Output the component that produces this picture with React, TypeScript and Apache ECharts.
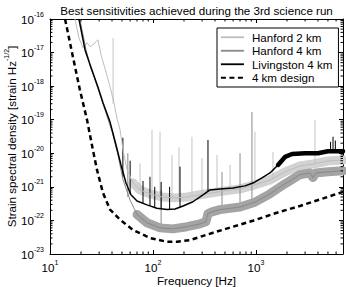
import React, { useEffect, useRef } from 'react';
import * as echarts from 'echarts';

const FONT = "'Liberation Sans', Arial, Helvetica, sans-serif";

const xMin = 10;
const xMax = 7000;
const yMin = 1e-23;
const yMax = 1e-16;

const titleText = 'Best sensitivities achieved during the 3rd science run';
const legendNames = ['Hanford 2 km', 'Hanford 4 km', 'Livingston 4 km', '4 km design'];
const xTickValues = [10, 100, 1000];
const yTickValues = [1e-23, 1e-22, 1e-21, 1e-20, 1e-19, 1e-18, 1e-17, 1e-16];

// Hanford 2 km (light gray)
const h2Freq = [17.5, 19.1, 20.9, 22.9, 24.5, 26.7, 29.2, 31.3, 35.0, 38.3, 41.8, 44.7, 47.9, 51.2, 56, 64, 74.8, 93.5, 122, 164, 214, 286, 374, 500, 700, 977, 1368, 1915, 2673, 3575, 5000, 7000];
const h2Val = [1.0e-16, 2.7e-17, 1.4e-17, 1.95e-17, 1.5e-17, 1.8e-17, 2.4e-17, 8.5e-18, 2.6e-18, 9.5e-19, 3.2e-19, 1.1e-19, 5.0e-20, 1.26e-20, 3.2e-21, 1.3e-21, 8.1e-22, 6.2e-22, 5.0e-22, 4.7e-22, 5.0e-22, 5.8e-22, 6.6e-22, 7.6e-22, 8.7e-22, 1.15e-21, 1.6e-21, 2.8e-21, 4.2e-21, 4.8e-21, 5.9e-21, 6.3e-21];
const h2Spikes = [
  [41, 3.0e-19, 2.7e-17], [74.8, 8.0e-22, 5.0e-21], [97.8, 6.0e-22, 5.0e-20], [117, 5.0e-22, 4.4e-20],
  [153, 5.0e-22, 8.9e-21], [179, 5.0e-22, 1.5e-20], [239, 5.5e-22, 3.1e-20], [299, 6.0e-22, 7.3e-21],
  [418, 7.0e-22, 8.9e-21], [560, 8.0e-22, 4.5e-21], [977, 1.2e-21, 4.4e-20], [1463, 1.7e-21, 1.1e-20],
  [3740, 5.0e-21, 9.8e-20],
];

// Hanford 4 km (gray)
const h1Freq = [19.5, 22.4, 25.0, 29.9, 34.2, 40.0, 45.7, 51.2, 59.8, 70, 87.5, 117, 156, 214, 286, 327, 342, 374, 447, 700, 977, 1368, 1915, 2673, 3342, 3575, 3828, 5000, 7000];
const h1Val = [1.0e-16, 1.2e-17, 3.5e-18, 6.7e-19, 1.95e-19, 4.4e-20, 8.9e-21, 1.6e-21, 4.1e-22, 1.5e-22, 8.5e-23, 6.0e-23, 5.6e-23, 6.5e-23, 7.9e-23, 9.1e-23, 1.6e-22, 1.8e-22, 2.1e-22, 2.5e-22, 3.5e-22, 6.2e-22, 1.23e-21, 2.3e-21, 2.6e-21, 1.9e-21, 2.6e-21, 2.8e-21, 3.0e-21];
const h1Spikes = [
  [57, 5.0e-22, 1.0e-20], [120, 6.0e-23, 8.0e-22], [468, 2.1e-22, 2.8e-21], [700, 2.5e-22, 1.0e-20],
  [914, 3.3e-22, 1.7e-19],
];

// Livingston 4 km (black)
const l1Freq = [19.1, 21.9, 24.5, 29.2, 32.7, 38.3, 43.7, 48.9, 54.7, 61.1, 70, 87.5, 109, 137, 164, 196, 244, 306, 357, 447, 598, 782, 935, 1143, 1368, 1637, 1915, 2239, 2990, 3999, 5000, 7000];
const l1Val = [1.0e-16, 1.2e-17, 4.3e-18, 9.5e-19, 3.2e-19, 8.5e-20, 1.8e-20, 4.5e-21, 1.3e-21, 5.8e-22, 3.8e-22, 2.9e-22, 2.3e-22, 2.1e-22, 2.2e-22, 2.7e-22, 3.6e-22, 5.8e-22, 8.1e-22, 8.7e-22, 9.3e-22, 1.07e-21, 1.3e-21, 1.86e-21, 2.6e-21, 4.5e-21, 7.8e-21, 9.5e-21, 1.0e-20, 1.0e-20, 1.15e-20, 1.15e-20];
const l1Spikes = [
  [51, 2.0e-21, 2.9e-20], [60, 6.0e-22, 6.0e-21], [80, 3.2e-22, 1.5e-21], [93.5, 2.8e-22, 2.0e-21],
  [104, 2.4e-22, 1.0e-21], [120, 2.2e-22, 1.4e-21], [145, 2.1e-22, 1.0e-21], [183, 2.4e-22, 4.0e-21],
  [342, 7.0e-22, 2.5e-20], [5300, 1.15e-20, 2.2e-20], [5600, 1.15e-20, 3.1e-20], [5900, 1.15e-20, 2.4e-20],
];

// 4 km design (dashed)
const designFreq = [14.0, 16.7, 19.5, 22.9, 26.1, 28.6, 32.7, 38.3, 47.9, 64, 93.5, 137, 171, 229, 383, 598, 935, 1600, 2673, 4375, 7000];
const designVal = [1.0e-16, 7.4e-18, 7.8e-19, 9.8e-20, 1.26e-20, 3.2e-21, 6.6e-22, 2.1e-22, 1.05e-22, 5.2e-23, 3.0e-23, 2.3e-23, 2.3e-23, 2.6e-23, 4.3e-23, 6.5e-23, 9.8e-23, 1.7e-22, 2.7e-22, 4.4e-22, 7.1e-22];

const minorMult = [2, 3, 4, 5, 6, 7, 8, 9];
const xDecades = [10, 100, 1000];
const yDecades = [1e-23, 1e-22, 1e-21, 1e-20, 1e-19, 1e-18, 1e-17];

const pairs = (fs: number[], vs: number[]) => fs.map((f, i) => [f, vs[i]]);

const supStyle = { fontSize: 7, fontFamily: FONT, color: '#000', lineHeight: 8, padding: [0, 0, 10, 0] };
const supRich = {
  b: { fontSize: 11.6, fontFamily: FONT, color: '#000', lineHeight: 14 },
  s: supStyle,
};

const decadeLabel = (v: number) => {
  if (!(v > 0) || !isFinite(v)) return '';
  const e = Math.log10(v);
  const r = Math.round(e);
  if (Math.abs(e - r) > 1e-6) return '';
  return `{b|10}{s|${r}}`;
};

const axisCommon = {
  axisLine: { show: true, onZero: false, lineStyle: { color: '#000', width: 1 } },
  splitLine: { show: false },
  nameMoveOverlap: false,
};
const tickStyle = { show: true, inside: true, length: 4, lineStyle: { color: '#000', width: 1 } };

export default function App() {
  const ref = useRef<HTMLDivElement>(null);
  useEffect(() => {
    if (!ref.current) return;
    const chart = echarts.init(ref.current, undefined, { renderer: 'svg' });

    const spikeSeries = (name: string, data: number[][], color: string) => ({
      type: 'custom',
      name,
      silent: true,
      data,
      encode: { x: 0, y: [1, 2] },
      renderItem: (_p: any, api: any) => {
        const a = api.coord([api.value(0), api.value(1)]);
        const b = api.coord([api.value(0), api.value(2)]);
        return { type: 'line', shape: { x1: a[0], y1: a[1], x2: b[0], y2: b[1] }, style: { stroke: color, lineWidth: 1 } };
      },
      z: 2,
    });

    const minorData: number[][] = [];
    xDecades.forEach((d) => minorMult.forEach((m) => { if (m * d < xMax) minorData.push([m * d, yMin, 0]); }));
    yDecades.forEach((d) => minorMult.forEach((m) => minorData.push([xMin, m * d, 1])));

    const h2 = pairs(h2Freq, h2Val);
    const h1 = pairs(h1Freq, h1Val);
    const l1 = pairs(l1Freq, l1Val);

    const lineBase = { type: 'line', symbol: 'none', showSymbol: false, smooth: false, silent: true };

    const option: any = {
      animation: false,
      backgroundColor: '#fff',
      grid: { left: 50, right: 3, top: 19, bottom: 33, containLabel: false, outerBoundsMode: 'none' },
      graphic: [
        {
          type: 'text', x: 196.5, y: 10, silent: true,
          style: { text: titleText, fill: '#000', fontSize: 11.6, fontFamily: FONT, align: 'center', verticalAlign: 'middle' },
        },
      ],
      legend: {
        data: legendNames.map((n) => ({ name: n, itemStyle: { opacity: 0 } })),
        orient: 'vertical',
        left: 217,
        top: 28,
        itemWidth: 23,
        itemHeight: 8,
        itemGap: 1,
        padding: [3, 6, 3, 3],
        borderColor: '#000',
        borderWidth: 1,
        backgroundColor: '#fff',
        selectedMode: false,
        lineStyle: { width: 1.8 },
        textStyle: { fontSize: 11.6, fontFamily: FONT, color: '#000', lineHeight: 12.5, padding: [0, 0, 0, 3] },
        z: 10,
      },
      xAxis: [
        {
          ...axisCommon,
          type: 'log', logBase: 10, min: xMin, max: xMax, position: 'bottom',
          name: 'Frequency [Hz]', nameLocation: 'middle', nameGap: 19,
          nameTextStyle: { fontSize: 11.7, fontFamily: FONT, color: '#000', lineHeight: 14 },
          axisTick: { ...tickStyle, customValues: xTickValues },
          axisLabel: { formatter: decadeLabel, margin: 6, rich: supRich, customValues: xTickValues },
        },
        {
          ...axisCommon,
          type: 'log', logBase: 10, min: xMin, max: xMax, position: 'top',
          axisTick: { ...tickStyle, customValues: xTickValues },
          axisLabel: { show: false, customValues: xTickValues },
        },
      ],
      yAxis: [
        {
          ...axisCommon,
          type: 'log', logBase: 10, min: yMin, max: yMax, position: 'left',
          name: 'Strain spectral density [strain Hz{s|-1/2}]', nameLocation: 'middle', nameGap: 32,
          nameTextStyle: { fontSize: 11.6, fontFamily: FONT, color: '#000', lineHeight: 14, rich: { s: supStyle } },
          axisTick: { ...tickStyle, customValues: yTickValues },
          axisLabel: { formatter: decadeLabel, margin: 6, rich: supRich, customValues: yTickValues },
        },
        {
          ...axisCommon,
          type: 'log', logBase: 10, min: yMin, max: yMax, position: 'right',
          axisTick: { ...tickStyle, customValues: yTickValues },
          axisLabel: { show: false, customValues: yTickValues },
        },
      ],
      series: [
        { ...lineBase, name: 'H2 band', data: h2.filter((p) => p[0] >= 64), lineStyle: { color: '#d2d2d2', width: 9, cap: 'round', join: 'round' }, z: 1 },
        spikeSeries('H2 spikes', h2Spikes, '#c4c4c4'),
        { ...lineBase, name: 'Hanford 2 km', data: h2, itemStyle: { color: '#bdbdbd' }, lineStyle: { color: '#bdbdbd', width: 1 }, z: 2 },
        { ...lineBase, name: 'H1 band', data: h1.filter((p) => p[0] >= 70), lineStyle: { color: '#a4a4a4', width: 9, cap: 'round', join: 'round' }, z: 3 },
        spikeSeries('H1 spikes', h1Spikes, '#8a8a8a'),
        { ...lineBase, name: 'Hanford 4 km', data: h1, itemStyle: { color: '#888888' }, lineStyle: { color: '#888888', width: 1 }, z: 3 },
        { ...lineBase, name: 'L1 band', data: l1.filter((p) => p[0] >= 1637), lineStyle: { color: '#000', width: 4.5, cap: 'round', join: 'round' }, z: 4 },
        spikeSeries('L1 spikes', l1Spikes, '#000'),
        { ...lineBase, name: 'Livingston 4 km', data: l1, itemStyle: { color: '#000' }, lineStyle: { color: '#000', width: 1.5 }, z: 4 },
        { ...lineBase, name: '4 km design', data: pairs(designFreq, designVal), itemStyle: { color: '#000' }, lineStyle: { color: '#000', width: 2.5, type: [5, 3.5] }, z: 5 },
        {
          type: 'custom', name: 'minor ticks', silent: true, data: minorData, encode: { x: 0, y: 1 }, clip: false, z: 6,
          renderItem: (_p: any, api: any) => {
            const kind = api.value(2);
            if (kind === 0) {
              const f = api.value(0);
              const b = api.coord([f, yMin]);
              const t = api.coord([f, yMax]);
              return {
                type: 'group', children: [
                  { type: 'line', shape: { x1: b[0], y1: b[1], x2: b[0], y2: b[1] - 2.5 }, style: { stroke: '#000', lineWidth: 1 } },
                  { type: 'line', shape: { x1: t[0], y1: t[1], x2: t[0], y2: t[1] + 2.5 }, style: { stroke: '#000', lineWidth: 1 } },
                ],
              };
            }
            const v = api.value(1);
            const l = api.coord([xMin, v]);
            const r = api.coord([xMax, v]);
            return {
              type: 'group', children: [
                { type: 'line', shape: { x1: l[0], y1: l[1], x2: l[0] + 2.5, y2: l[1] }, style: { stroke: '#000', lineWidth: 1 } },
                { type: 'line', shape: { x1: r[0], y1: r[1], x2: r[0] - 2.5, y2: r[1] }, style: { stroke: '#000', lineWidth: 1 } },
              ],
            };
          },
        },
      ],
    };
    chart.setOption(option);
    return () => chart.dispose();
  }, []);
  return <div ref={ref} style={{ position: 'fixed', left: 0, top: 0, width: 346, height: 287, background: '#fff' }} />;
}
